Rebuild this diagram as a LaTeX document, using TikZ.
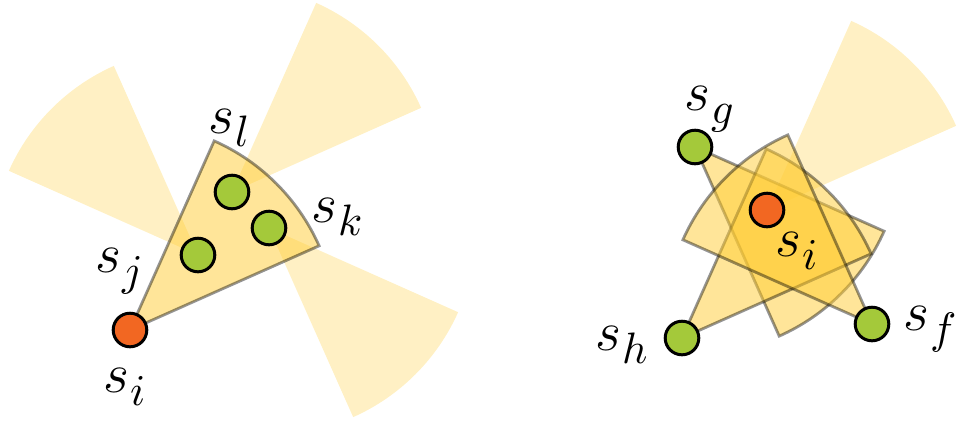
\documentclass[tikz,border=0pt]{standalone}
\definecolor{cone}{RGB}{255,204,51}
\definecolor{nodegreen}{RGB}{164,201,58}
\definecolor{nodeorange}{RGB}{242,103,34}
\font\labmi=cmmi12 at 56pt
\font\labsub=cmmi10 at 44pt
\tikzset{
  faint/.style={fill=cone, fill opacity=0.29},
  view/.style={fill=cone, fill opacity=0.5, draw=black, draw opacity=0.42, line width=2.8pt},
  agent/.style={circle, draw=black, line width=3pt, minimum size=33.6pt, inner sep=0pt},
  target/.style={agent, fill=nodeorange},
  neighbor/.style={agent, fill=nodegreen},
  lab/.style={anchor=base west, inner sep=0pt},
}
\newcommand{\slab}[1]{{\labmi s}\kern1pt\raisebox{-13pt}{\labsub #1}}
\begin{document}
\begin{tikzpicture}[x=1pt,y=1pt]
\useasboundingbox (0,0) rectangle (960,-424);
% positions
\coordinate (Li) at (130,-330);
\coordinate (La) at (232,-192);
\coordinate (Lb) at (269,-228);
\coordinate (Lc) at (198,-255);
\coordinate (Ri) at (767,-210);
\coordinate (Rg) at (695,-147);
\coordinate (Rh) at (682,-338);
\coordinate (Rf) at (872,-324);
% left: faint cones of the neighbours
\fill[faint] (La) -- ++(24:207pt) arc[start angle=24, end angle=66, radius=207pt] -- cycle;
\fill[faint] (Lb) -- ++(-66:207pt) arc[start angle=-66, end angle=-24, radius=207pt] -- cycle;
\fill[faint] (Lc) -- ++(114:207pt) arc[start angle=114, end angle=156, radius=207pt] -- cycle;
% left: main cone
\filldraw[view] (Li) -- ++(24:207pt) arc[start angle=24, end angle=66, radius=207pt] -- cycle;
% right: faint cone of s_i
\fill[faint] (Ri) -- ++(24:207pt) arc[start angle=24, end angle=66, radius=207pt] -- cycle;
% right: cones of the neighbours
\filldraw[view] (Rg) -- ++(-66:207pt) arc[start angle=-66, end angle=-24, radius=207pt] -- cycle;
\filldraw[view] (Rh) -- ++(24:207pt) arc[start angle=24, end angle=66, radius=207pt] -- cycle;
\filldraw[view] (Rf) -- ++(114:207pt) arc[start angle=114, end angle=156, radius=207pt] -- cycle;
% nodes
\node[target] (ni) at (Li) {};
\node[neighbor] (na) at (La) {};
\node[neighbor] (nb) at (Lb) {};
\node[neighbor] (nc) at (Lc) {};
\node[target] (mi) at (Ri) {};
\node[neighbor] (mg) at (Rg) {};
\node[neighbor] (mh) at (Rh) {};
\node[neighbor] (mf) at (Rf) {};
% labels
\node[lab] (tl) at (208,-133) {\slab{l}};
\node[lab] (tk) at (311,-222) {\slab{k}};
\node[lab] (tj) at (95,-272) {\slab{j}};
\node[lab] (ti) at (103,-392) {\slab{i}};
\node[lab] (ug) at (684,-110) {\slab{g}};
\node[lab] (uh) at (595,-350) {\slab{h}};
\node[lab] (uf) at (903,-330) {\slab{f}};
\node[lab] (ui) at (775,-256) {\slab{i}};
\end{tikzpicture}
\end{document}
